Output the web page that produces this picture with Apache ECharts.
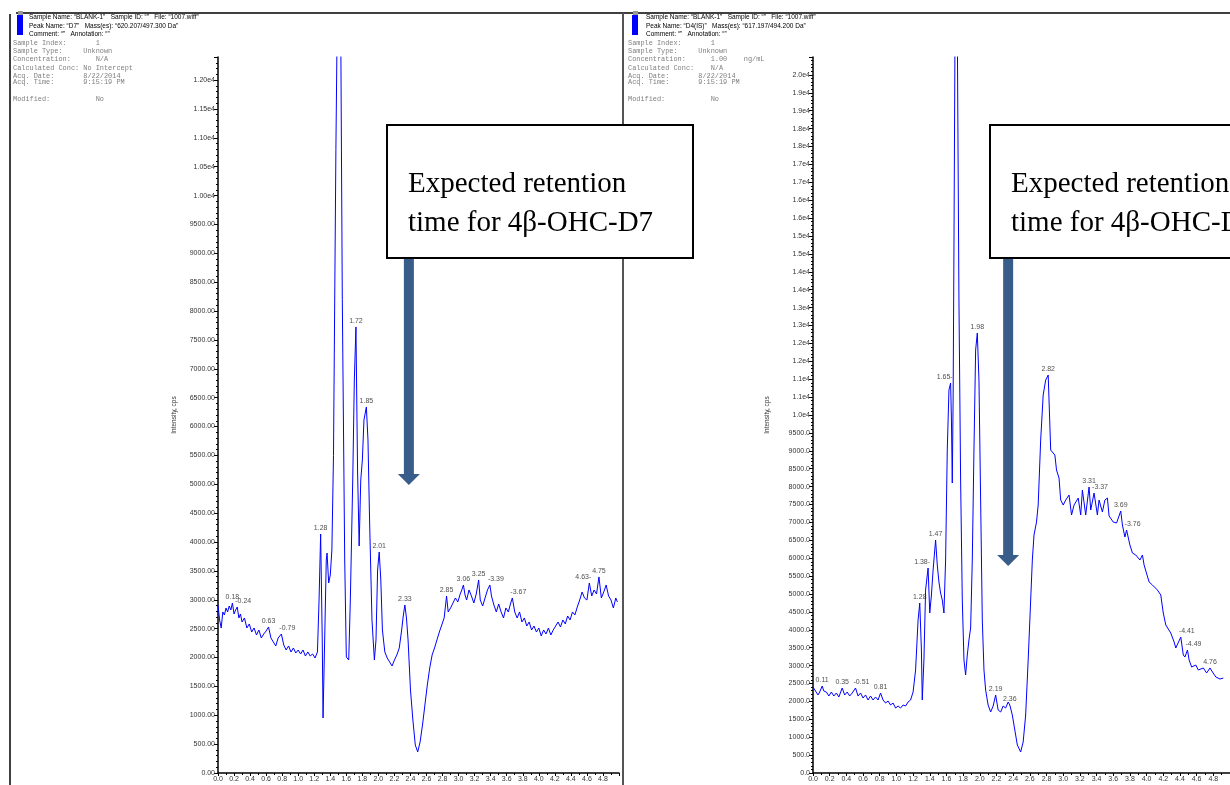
<!DOCTYPE html>
<html><head><meta charset="utf-8">
<script src="https://cdn.jsdelivr.net/npm/echarts@6/dist/echarts.min.js"></script>
<style>html,body{margin:0;padding:0;background:#fff}#c{width:1230px;height:785px}</style>
</head><body><div id="c"></div><script>
// ---------- DATA ----------
const xTickLabels = ['0.0','0.2','0.4','0.6','0.8','1.0','1.2','1.4','1.6','1.8','2.0','2.2','2.4','2.6','2.8','3.0','3.2','3.4','3.6','3.8','4.0','4.2','4.4','4.6','4.8'];
const leftYTickLabels = ['0.00','500.00','1000.00','1500.00','2000.00','2500.00','3000.00','3500.00','4000.00','4500.00','5000.00','5500.00','6000.00','6500.00','7000.00','7500.00','8000.00','8500.00','9000.00','9500.00','1.00e4','1.05e4','1.10e4','1.15e4','1.20e4'];
const rightYTickLabels = ['0.0','500.0','1000.0','1500.0','2000.0','2500.0','3000.0','3500.0','4000.0','4500.0','5000.0','5500.0','6000.0','6500.0','7000.0','7500.0','8000.0','8500.0','9000.0','9500.0','1.0e4','1.1e4','1.1e4','1.2e4','1.2e4','1.3e4','1.3e4','1.4e4','1.4e4','1.5e4','1.5e4','1.6e4','1.6e4','1.7e4','1.7e4','1.8e4','1.8e4','1.9e4','1.9e4','2.0e4'];

const leftTimes = [0.00,0.02,0.04,0.06,0.08,0.10,0.12,0.14,0.16,0.18,0.20,0.22,0.24,0.26,0.28,0.30,0.33,0.36,0.39,0.42,0.45,0.48,0.51,0.54,0.57,0.60,0.63,0.66,0.69,0.72,0.75,0.79,0.82,0.85,0.88,0.91,0.94,0.97,1.00,1.03,1.06,1.09,1.12,1.15,1.18,1.21,1.24,1.26,1.28,1.30,1.31,1.33,1.35,1.36,1.38,1.40,1.42,1.44,1.47,1.49,1.51,1.53,1.55,1.58,1.60,1.63,1.65,1.68,1.70,1.72,1.74,1.76,1.78,1.80,1.82,1.85,1.87,1.89,1.92,1.95,1.97,1.99,2.01,2.03,2.05,2.08,2.11,2.14,2.17,2.20,2.23,2.26,2.29,2.31,2.33,2.35,2.37,2.40,2.43,2.46,2.49,2.52,2.55,2.58,2.61,2.64,2.67,2.70,2.73,2.76,2.79,2.82,2.85,2.87,2.90,2.93,2.96,2.99,3.02,3.04,3.06,3.08,3.10,3.13,3.16,3.19,3.22,3.25,3.27,3.30,3.33,3.36,3.39,3.41,3.44,3.47,3.50,3.53,3.56,3.59,3.62,3.65,3.67,3.70,3.73,3.76,3.79,3.82,3.85,3.88,3.91,3.94,3.97,4.00,4.03,4.06,4.09,4.12,4.15,4.18,4.21,4.24,4.27,4.30,4.33,4.36,4.39,4.42,4.45,4.48,4.51,4.54,4.57,4.60,4.63,4.66,4.69,4.72,4.75,4.78,4.81,4.84,4.87,4.90,4.93,4.96,4.98];
const leftIntensity = [2910,2650,2511,2789,2737,2858,2789,2892,2823,2944,2754,2823,2875,2685,2754,2615,2685,2511,2581,2442,2511,2390,2477,2338,2407,2459,2529,2338,2269,2200,2338,2407,2217,2130,2200,2096,2165,2078,2130,2061,2130,2026,2096,2026,2061,1992,2096,2996,4139,2304,953,2304,3689,3810,3291,3429,3862,5500,10800,13500,15000,13000,8200,3689,2009,1957,2996,5075,6807,7725,5248,3932,5075,5421,6114,6339,5768,4382,2650,1957,2304,3516,3828,3343,2477,2096,1992,1923,1853,1957,2044,2165,2477,2719,2910,2685,2304,1438,918,485,364,537,831,1178,1524,1819,2044,2165,2304,2442,2563,2685,3066,2789,2858,2944,3031,2962,3100,3170,3256,3083,2996,3170,3066,2944,3100,3343,2996,2892,3031,3170,3256,3066,2910,2789,2927,2789,2685,2858,2789,2944,3031,2789,2685,2789,2615,2685,2546,2615,2477,2546,2442,2511,2373,2477,2407,2511,2390,2477,2546,2615,2529,2650,2581,2719,2650,2789,2737,2875,2996,3135,3031,2996,3291,3066,3170,3100,3395,3031,3135,3256,3066,2996,2858,3031,2962];
const leftPeakTimes = [0.18,0.24,0.63,0.79,1.28,1.72,1.85,2.01,2.33,2.85,3.06,3.25,3.39,3.67,4.63,4.75];
const leftPeakTexts = ['0.18','-0.24','0.63','-0.79','1.28','1.72','1.85','2.01','2.33','2.85','3.06','3.25','-3.39','-3.67','4.63-','4.75'];

const rightTimes = [0.00,0.03,0.06,0.08,0.11,0.13,0.16,0.19,0.22,0.25,0.28,0.31,0.35,0.38,0.41,0.44,0.47,0.51,0.54,0.57,0.60,0.63,0.66,0.69,0.72,0.75,0.78,0.81,0.84,0.87,0.90,0.93,0.96,0.99,1.02,1.05,1.08,1.11,1.14,1.17,1.20,1.23,1.26,1.28,1.30,1.31,1.33,1.35,1.38,1.40,1.42,1.44,1.47,1.49,1.51,1.53,1.55,1.57,1.59,1.61,1.63,1.65,1.66,1.67,1.68,1.69,1.70,1.71,1.73,1.75,1.77,1.79,1.81,1.83,1.85,1.87,1.89,1.91,1.93,1.95,1.97,1.99,2.01,2.03,2.05,2.07,2.10,2.13,2.16,2.19,2.22,2.25,2.28,2.31,2.34,2.36,2.39,2.42,2.45,2.49,2.52,2.55,2.58,2.61,2.63,2.65,2.68,2.70,2.73,2.76,2.79,2.82,2.85,2.90,2.92,2.95,2.97,3.00,3.03,3.07,3.10,3.13,3.15,3.18,3.21,3.23,3.27,3.31,3.33,3.37,3.41,3.43,3.47,3.50,3.53,3.55,3.60,3.64,3.69,3.71,3.74,3.76,3.80,3.83,3.87,3.92,3.95,3.97,4.03,4.07,4.13,4.17,4.20,4.23,4.29,4.33,4.35,4.41,4.44,4.46,4.49,4.51,4.54,4.59,4.62,4.68,4.72,4.76,4.79,4.83,4.88,4.92];
const rightIntensity = [2400,2290,2180,2262,2430,2290,2262,2151,2262,2151,2234,2123,2374,2179,2262,2151,2234,2374,2151,2234,2095,2179,2039,2151,2039,2123,2039,2234,2039,1955,2011,1899,1955,1815,1871,1815,1899,1871,1983,2039,2262,2877,4273,4748,3435,2039,3156,5111,5726,4469,4972,5670,6508,5809,5335,5027,4832,4469,5949,9021,10697,10893,9859,8100,10418,14607,19355,24000,21000,13211,8183,4832,3156,2737,3296,3715,4050,5949,9021,11814,12289,10976,7625,4273,2877,2318,1899,1704,1871,2179,1760,1704,1871,1815,1983,1899,1620,1201,782,587,866,1620,3156,4832,5949,6647,7010,7485,9301,10558,10976,11116,9021,8882,8463,8239,7625,7485,7625,7765,7206,7485,7485,7681,7206,7904,7206,7988,7346,7820,7206,7625,7290,7625,7681,7178,7010,6983,7318,6927,6591,6787,6368,6145,6089,5949,6089,5809,5335,5251,5111,4972,4469,4134,3910,3659,3491,3798,3296,3240,3435,3156,2961,3016,2877,2933,2793,2933,2821,2681,2625,2653];
const rightPeakTimes = [0.11,0.35,0.51,0.81,1.28,1.38,1.47,1.65,1.97,2.19,2.36,2.82,3.31,3.37,3.69,3.76,4.41,4.49,4.76];
const rightPeakTexts = ['0.11','0.35','-0.51','0.81','1.28','1.38-','1.47','1.65-','1.98','2.19','2.36','2.82','3.31','-3.37','3.69','-3.76','-4.41','-4.49','4.76'];

const arrowTimeLeft = 2.38;
const arrowTimeRight = 2.34;

// ---------- BUILD ----------
const chart = echarts.init(document.getElementById('c'), null, {renderer:'canvas'});
const SANS = 'Liberation Sans, Arial, sans-serif';
const MONO = 'Liberation Mono, monospace';
const SERIF = 'Liberation Serif, Times New Roman, serif';

function pairs(t, v){ return t.map((x,i)=>[x, v[i]]); }
function peakPoints(t, v, pt, txt){
  return pt.map((p,k)=>{
    let best=0, bd=1e9;
    t.forEach((x,i)=>{ const d=Math.abs(x-p); if(d<bd){bd=d;best=i;} });
    const s = txt[k];
    let align='center', off=[0,0];
    if (s.startsWith('-')) { align='left'; off=[-2,0]; }
    else if (s.endsWith('-')) { align='right'; off=[2,0]; }
    return {value:[t[best], v[best]], label:{show:true, formatter:s, align:align, offset:off}};
  });
}
function tickFmt(labels, step){
  return function(v){
    const k = Math.round(v/step);
    if (Math.abs(v/step - k) > 1e-6) return '';
    return labels[k] !== undefined ? labels[k] : '';
  };
}
function xAxisCfg(gi){
  return {type:'value', gridIndex:gi, min:0, max:5, interval:0.2,
    axisLine:{show:true, onZero:false, lineStyle:{color:'#000', width:1.5}},
    axisTick:{show:true, length:3, lineStyle:{color:'#000', width:1}},
    minorTick:{show:true, splitNumber:2, length:2, lineStyle:{color:'#000', width:1}},
    splitLine:{show:false},
    axisLabel:{formatter:tickFmt(xTickLabels,0.2), fontSize:7, color:'#333', fontFamily:SANS, margin:3, showMaxLabel:false}};
}
function yAxisCfg(gi, max, labels, gap){
  return {type:'value', gridIndex:gi, min:0, max:max, interval:500,
    name:'Intensity, cps', nameLocation:'middle', nameGap:gap, nameRotate:90,
    nameTextStyle:{fontSize:6.5, color:'#333', fontFamily:SANS},
    axisLine:{show:true, onZero:false, lineStyle:{color:'#000', width:1.5}},
    axisTick:{show:true, length:4, lineStyle:{color:'#000', width:1}},
    minorTick:{show:true, splitNumber:5, length:2, lineStyle:{color:'#000', width:1}},
    splitLine:{show:false},
    axisLabel:{formatter:tickFmt(labels,500), fontSize:7, color:'#333', fontFamily:SANS, margin:3}};
}
function lineSeries(i, t, v){
  return {type:'line', xAxisIndex:i, yAxisIndex:i, data:pairs(t,v), showSymbol:false, symbol:'none',
    clip:true, lineStyle:{color:'#0000ff', width:1}, animation:false, silent:true, z:3};
}
function labelSeries(i, pts){
  return {type:'scatter', xAxisIndex:i, yAxisIndex:i, data:pts, symbol:'circle', symbolSize:1,
    itemStyle:{color:'rgba(0,0,0,0)'},
    label:{show:true, position:'top', distance:2, fontSize:7, color:'#222', fontFamily:SANS},
    animation:false, silent:true, z:4};
}

chart.setOption({
  animation:false,
  backgroundColor:'#fff',
  grid:[
    {left:218, top:57, width:401, height:716},
    {left:813, top:57, width:425, height:716}
  ],
  xAxis:[xAxisCfg(0), xAxisCfg(1)],
  yAxis:[yAxisCfg(0,12400,leftYTickLabels,40), yAxisCfg(1,20000,rightYTickLabels,42)],
  series:[
    lineSeries(0, leftTimes, leftIntensity),
    lineSeries(1, rightTimes, rightIntensity),
    labelSeries(0, peakPoints(leftTimes,leftIntensity,leftPeakTimes,leftPeakTexts)),
    labelSeries(1, peakPoints(rightTimes,rightIntensity,rightPeakTimes,rightPeakTexts))
  ]
});

// ---------- ANNOTATIONS ----------
function txt(x,y,s,font,size,color,extra){
  return Object.assign({type:'text', x:x, y:y, z:50, style:{text:s, font:size+'px '+font, fill:color, verticalAlign:'middle', align:'left'}}, extra||{});
}
function header(x0, xs, lines1, monoLines){
  const g = [];
  g.push({type:'rect', shape:{x:x0+1, y:11, width:5, height:4}, style:{fill:'#999'}, z:40});
  g.push({type:'rect', shape:{x:x0, y:15, width:6, height:20}, style:{fill:'#0000ff'}, z:41});
  const ys = [17.5, 26.5, 34.5];
  lines1.forEach((s,i)=>g.push(txt(xs, ys[i], s, SANS, 6.5, '#000')));
  const ym = [43, 51, 59, 68, 76, 82, 99];
  monoLines.forEach((s,i)=>g.push(txt(x0-4, ym[i], s, MONO, 6.9, '#808080')));
  return g;
}
function arrow(cx, yTop, yShaftEnd, yTip){
  return {type:'polygon', z:45, shape:{points:[[cx-5,yTop],[cx+5,yTop],[cx+5,yShaftEnd],[cx+11,yShaftEnd],[cx,yTip],[cx-11,yShaftEnd],[cx-5,yShaftEnd]]},
    style:{fill:'#385d8a'}};
}
function box(x, y, w, h){
  return [
    {type:'rect', z:60, shape:{x:x, y:y, width:w, height:h}, style:{fill:'#fff', stroke:'#000', lineWidth:2}},
    txt(x+21, y+59, 'Expected retention', SERIF, 29, '#000', {z:61}),
    txt(x+21, y+98, 'time for 4\u03b2-OHC-D7', SERIF, 29, '#000', {z:61})
  ];
}

const axL = chart.convertToPixel({xAxisIndex:0}, arrowTimeLeft);
const axR = chart.convertToPixel({xAxisIndex:1}, arrowTimeRight);

let graphics = [
  {type:'line', z:30, shape:{x1:16, y1:13, x2:1230, y2:13}, style:{stroke:'#000', lineWidth:1.5}},
  {type:'line', z:30, shape:{x1:10, y1:14, x2:10, y2:785}, style:{stroke:'#000', lineWidth:1.5}},
  {type:'line', z:30, shape:{x1:623, y1:13, x2:623, y2:785}, style:{stroke:'#555', lineWidth:2}}
];
graphics = graphics.concat(header(17, 29,
  ['Sample Name: \u201cBLANK-1\u201d   Sample ID: \u201c\u201d   File: \u201c1007.wiff\u201d',
   'Peak Name: \u201cD7\u201d   Mass(es): \u201c620.207/497.300 Da\u201d',
   'Comment: \u201c\u201d   Annotation: \u201c\u201d'],
  ['Sample Index:       1','Sample Type:     Unknown','Concentration:      N/A','Calculated Conc: No Intercept','Acq. Date:       8/22/2014','Acq. Time:       9:15:19 PM','Modified:           No']));
graphics = graphics.concat(header(632, 646,
  ['Sample Name: \u201cBLANK-1\u201d   Sample ID: \u201c\u201d   File: \u201c1007.wiff\u201d',
   'Peak Name: \u201cD4(IS)\u201d   Mass(es): \u201c617.197/494.200 Da\u201d',
   'Comment: \u201c\u201d   Annotation: \u201c\u201d'],
  ['Sample Index:       1','Sample Type:     Unknown','Concentration:      1.00    ng/mL','Calculated Conc:    N/A','Acq. Date:       8/22/2014','Acq. Time:       9:15:19 PM','Modified:           No']));
graphics.push(arrow(axL, 258, 474, 485));
graphics.push(arrow(axR, 258, 555, 566));
graphics = graphics.concat(box(387, 125, 306, 133));
graphics = graphics.concat(box(990, 125, 306, 133));

chart.setOption({graphic:{elements:graphics}});
</script></body></html>
